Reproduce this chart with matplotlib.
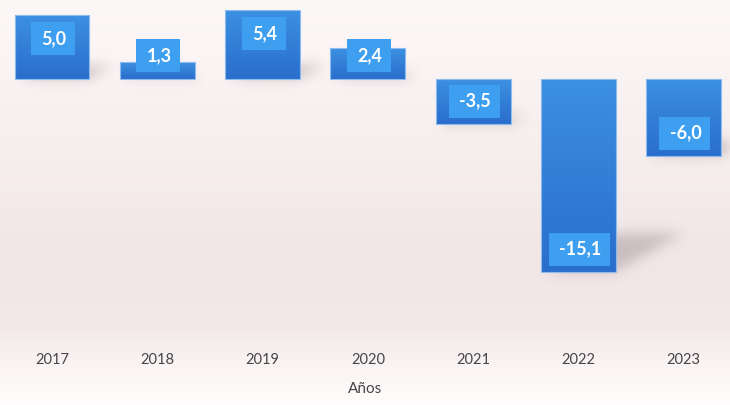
import numpy as np
import matplotlib
matplotlib.use('Agg')
import matplotlib.pyplot as plt
from matplotlib.path import Path
from matplotlib.patches import Rectangle
from matplotlib.colors import LinearSegmentedColormap

years = ['2017', '2018', '2019', '2020', '2021', '2022', '2023']
values = [5.0, 1.3, 5.4, 2.4, -3.5, -15.1, -6.0]
labels = ['5,0', '1,3', '5,4', '2,4', '-3,5', '-15,1', '-6,0']
xlabel = 'Años'

W, H = 730, 405
fig = plt.figure(figsize=(W / 100, H / 100), dpi=100)
plt.rcParams['font.family'] = ['Lato', 'DejaVu Sans']

# ---- background gradient ----
bg = fig.add_axes([0, 0, 1, 1], zorder=-10)
bg.set_xlim(0, W)
bg.set_ylim(H, 0)
bg.axis('off')
ys = np.array([0, 120, 260, 330, 370, 405])
cols = np.array([[253, 248, 248], [248, 240, 240], [241, 230, 230],
                 [243, 233, 233], [251, 245, 245], [255, 253, 253]]) / 255
yy = np.arange(H) + 0.5
grad = np.stack([np.interp(yy, ys, cols[:, i]) for i in range(3)], axis=-1)
img = np.repeat(grad[:, None, :], W, axis=1)
bg.imshow(img, extent=[0, W, H, 0], aspect='auto', interpolation='bilinear', zorder=0)

# ---- main axes ----
ax_top_px, ax_bot_px = 0, 340
ax = fig.add_axes([0, (H - ax_bot_px) / H, 1, (ax_bot_px - ax_top_px) / H])
ax.set_facecolor('none')
x = np.arange(len(years))
ax.set_xlim(-0.494, 6.439)
ax.set_ylim(-20.47, 6.196)
for s in ax.spines.values():
    s.set_visible(False)
ax.set_yticks([])
ax.set_xticks(x, years)
ax.tick_params(axis='x', length=0, pad=9, labelsize=10.5, labelcolor='#454545')
ax.set_xlabel(xlabel, fontsize=11, color='#454545', labelpad=11)

bars = ax.bar(x, values, width=0.712, color='none', edgecolor='#8cbcef',
              linewidth=0.8, zorder=3)

cmap = LinearSegmentedColormap.from_list('bl', ['#3c90e2', '#2a6ecc'])
for b in bars:
    x0, y0 = b.get_x(), b.get_y()
    w, h = b.get_width(), b.get_height()
    ylo, yhi = min(y0, y0 + h), max(y0, y0 + h)
    g = np.linspace(0, 1, 100)[:, None]
    im = ax.imshow(g, cmap=cmap, extent=[x0, x0 + w, ylo, yhi], origin='upper',
                   aspect='auto', zorder=2, interpolation='bilinear')
    im.set_clip_path(b)

ax.set_xlim(-0.494, 6.439)
ax.set_ylim(-20.47, 6.196)

def to_px(xd, yd):
    d = ax.transData.transform((xd, yd))
    return d[0], H - d[1]

def from_px(px, py):
    return ax.transData.inverted().transform((px, H - py))

# ---- shadows ----
Xg, Yg = np.meshgrid(np.arange(W) + 0.5, np.arange(H) + 0.5)
pts = np.column_stack([Xg.ravel(), Yg.ravel()])
mask = np.zeros(H * W)
for b, v in zip(bars, values):
    px0, pa = to_px(b.get_x(), 0)
    px1, pb = to_px(b.get_x() + b.get_width(), v)
    yb = max(pa, pb)
    hpx = abs(pa - pb)
    poly = [(px0 + 5, yb), (px1, yb), (px1 + 0.35 * hpx, yb - 0.2 * hpx),
            (px0 + 5 + 0.35 * hpx, yb - 0.2 * hpx)]
    mask = np.maximum(mask, Path(poly).contains_points(pts).astype(float))
mask = mask.reshape(H, W)

def blur(a, sigma):
    r = int(3 * sigma)
    k = np.exp(-0.5 * (np.arange(-r, r + 1) / sigma) ** 2)
    k /= k.sum()
    a = np.apply_along_axis(lambda m: np.convolve(m, k, mode='same'), 1, a)
    a = np.apply_along_axis(lambda m: np.convolve(m, k, mode='same'), 0, a)
    return a

mask = blur(mask, 6)
sh = np.zeros((H, W, 4))
sh[..., 0] = 0.45
sh[..., 1] = 0.38
sh[..., 2] = 0.38
sh[..., 3] = mask * 0.3
bg.imshow(sh, extent=[0, W, H, 0], aspect='auto', zorder=1)
bg.set_xlim(0, W)
bg.set_ylim(H, 0)

# ---- data labels ----
fig.canvas.draw()
renderer = fig.canvas.get_renderer()
box_h = 33
for b, v, lab in zip(bars, values, labels):
    cx = b.get_x() + b.get_width() / 2
    pcx, base = to_px(cx, 0)
    _, end = to_px(cx, v)
    if v >= 0:
        btop = min(end + 7, base - 7 - box_h)
    else:
        btop = end - 6 - box_h
    cy = btop + box_h / 2
    tx, ty = from_px(pcx + 2, cy)
    t = ax.text(tx, ty, lab, ha='center', va='center', color='white',
                fontsize=13, fontweight='bold', zorder=6)
    ext = t.get_window_extent(renderer)
    bw = ext.width + 19
    (ax0, ay0) = from_px(pcx - bw / 2 + 1, btop + box_h)
    (ax1, ay1) = from_px(pcx + bw / 2 + 1, btop)
    ax.add_patch(Rectangle((ax0, ay0), ax1 - ax0, ay1 - ay0, facecolor='#3e9ff0',
                           edgecolor='none', zorder=5))

fig.savefig('out.png', dpi=100)
